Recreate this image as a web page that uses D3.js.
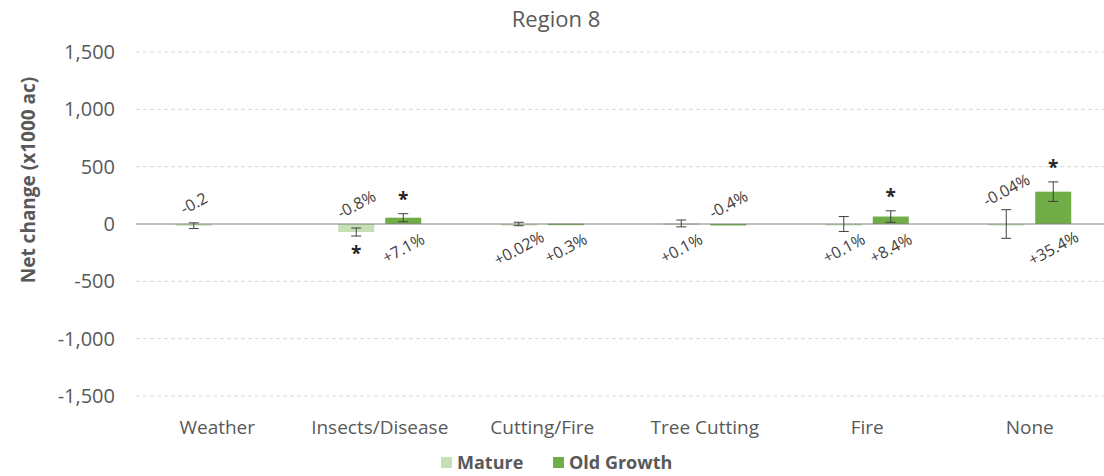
<!DOCTYPE html>
<html>
<head>
<meta charset="utf-8">
<script src="https://cdn.jsdelivr.net/npm/d3@7/dist/d3.min.js"></script>
<style>
  html, body { margin: 0; padding: 0; background: #fff; }
  svg { display: block; font-family: "Open Sans", sans-serif; }
</style>
</head>
<body>
<svg id="chart" width="1104" height="476"></svg>
<script>
// ---- data ----
const categories = ["Weather", "Insects/Disease", "Cutting/Fire", "Tree Cutting", "Fire", "None"];
const seriesNames = ["Mature", "Old Growth"];
const matureValues = [-15, -70, 0, 5, 0, 0];
const matureErrors = [25, 35, 15, 30, 65, 125];
const matureLabels = ["-0.2", "-0.8%", "+0.02%", "+0.1%", "+0.1%", "-0.04%"];
const matureLabelSide = ["above", "above", "below", "below", "below", "above"];
const matureSignif = [false, true, false, false, false, false];
const oldValues = [null, 55, 3, -4, 65, 282];
const oldErrors = [null, 35, 0, 0, 50, 85];
const oldLabels = [null, "+7.1%", "+0.3%", "-0.4%", "+8.4%", "+35.4%"];
const oldLabelSide = [null, "below", "below", "above", "below", "below"];
const oldSignif = [false, true, false, false, true, true];
const yTicks = [-1500, -1000, -500, 0, 500, 1000, 1500];
const yTickLabels = ["-1,500", "-1,000", "-500", "0", "500", "1,000", "1,500"];
const colors = ["#c5e0b4", "#70ad47"];

// ---- layout ----
const svg = d3.select("#chart");
const plotLeft = 136, plotRight = 1111, plotTop = 52, plotBottom = 396;

const x0 = d3.scaleBand().domain(categories).range([plotLeft, plotRight]).padding(0);
const x1 = d3.scaleBand().domain(seriesNames)
  .range([x0.bandwidth() / 2 - 41.5, x0.bandwidth() / 2 + 41.5])
  .paddingInner(0.234).paddingOuter(0);
const y = d3.scaleLinear().domain([-1500, 1500]).range([plotBottom, plotTop]);

// gridlines
svg.append("g").selectAll("line").data(yTicks.filter(d => d !== 0)).join("line")
  .attr("x1", plotLeft).attr("x2", plotRight)
  .attr("y1", d => y(d)).attr("y2", d => y(d))
  .attr("stroke", "#d9d9d9").attr("stroke-width", 1).attr("stroke-dasharray", "4,3");

// y axis labels
const yAxis = d3.axisLeft(y).tickValues(yTicks).tickFormat(d => yTickLabels[yTicks.indexOf(d)]).tickSize(0).tickPadding(0);
const gy = svg.append("g").attr("transform", `translate(${plotLeft - 21},0)`).call(yAxis);
gy.select(".domain").remove();
gy.selectAll("text").attr("fill", "#595959").attr("font-size", 20).attr("font-family", "Open Sans, sans-serif");

// y title
svg.append("text")
  .attr("transform", `translate(35,180) rotate(-90)`)
  .attr("text-anchor", "middle")
  .attr("fill", "#595959").attr("font-size", 19).attr("font-weight", "bold")
  .text("Net change (x1000 ac)");

// title
svg.append("text").attr("x", 556).attr("y", 27).attr("text-anchor", "middle")
  .attr("fill", "#595959").attr("font-size", 22).text("Region 8");

// build records
const records = [];
categories.forEach((c, i) => {
  records.push({cat: c, s: seriesNames[0], v: matureValues[i], e: matureErrors[i], lab: matureLabels[i], side: matureLabelSide[i], sig: matureSignif[i], color: colors[0]});
  records.push({cat: c, s: seriesNames[1], v: oldValues[i], e: oldErrors[i], lab: oldLabels[i], side: oldLabelSide[i], sig: oldSignif[i], color: colors[1]});
});
const recs = records.filter(r => r.v !== null);
const cx = r => x0(r.cat) + x1(r.s) + x1.bandwidth() / 2;

// bars
svg.append("g").selectAll("rect").data(recs).join("rect")
  .attr("x", r => x0(r.cat) + x1(r.s))
  .attr("width", x1.bandwidth())
  .attr("y", r => Math.min(y(r.v), y(0)))
  .attr("height", r => Math.max(Math.abs(y(r.v) - y(0)), 1.5))
  .attr("fill", r => r.color);

// zero axis line
svg.append("line").attr("x1", plotLeft).attr("x2", plotRight).attr("y1", y(0)).attr("y2", y(0))
  .attr("stroke", "#808080").attr("stroke-width", 1.2);

// error bars
const eg = svg.append("g").attr("stroke", "#404040").attr("stroke-width", 1);
recs.filter(r => r.e > 0).forEach(r => {
  const xc = cx(r);
  eg.append("line").attr("x1", xc).attr("x2", xc).attr("y1", y(r.v + r.e)).attr("y2", y(r.v - r.e));
  eg.append("line").attr("x1", xc - 5).attr("x2", xc + 5).attr("y1", y(r.v + r.e)).attr("y2", y(r.v + r.e));
  eg.append("line").attr("x1", xc - 5).attr("x2", xc + 5).attr("y1", y(r.v - r.e)).attr("y2", y(r.v - r.e));
});

// data labels
svg.append("g").selectAll("text").data(recs.filter(r => r.lab)).join("text")
  .attr("transform", r => {
    const xc = cx(r);
    let yy;
    if (r.side === "above") yy = Math.min(y(0), y(r.v + r.e)) - 20;
    else yy = Math.max(y(0), y(r.v)) + 24;
    return `translate(${xc},${yy}) rotate(-28)`;
  })
  .attr("text-anchor", "middle").attr("dominant-baseline", "central")
  .attr("fill", "#404040").attr("font-size", 16)
  .text(r => r.lab);

// significance asterisks
svg.append("g").selectAll("text").data(recs.filter(r => r.sig)).join("text")
  .attr("x", cx)
  .attr("y", r => r.v >= 0 ? y(r.v + r.e) - 8 : y(r.v - r.e) + 24)
  .attr("text-anchor", "middle")
  .attr("fill", "#262626").attr("font-size", 19).attr("font-weight", "bold")
  .text("*");

// x labels
svg.append("g").selectAll("text").data(categories).join("text")
  .attr("x", c => x0(c) + x0.bandwidth() / 2).attr("y", 434)
  .attr("text-anchor", "middle").attr("fill", "#595959").attr("font-size", 19)
  .text(c => c);

// legend
const legend = svg.append("g");
const legendItems = [{name: seriesNames[0], color: colors[0], x: 441}, {name: seriesNames[1], color: colors[1], x: 553}];
legend.selectAll("rect").data(legendItems).join("rect")
  .attr("x", d => d.x).attr("y", 457).attr("width", 11).attr("height", 11).attr("fill", d => d.color);
legend.selectAll("text").data(legendItems).join("text")
  .attr("x", d => d.x + 16).attr("y", 469)
  .attr("fill", "#595959").attr("font-size", 18).attr("font-weight", "bold")
  .text(d => d.name);
</script>
</body>
</html>
